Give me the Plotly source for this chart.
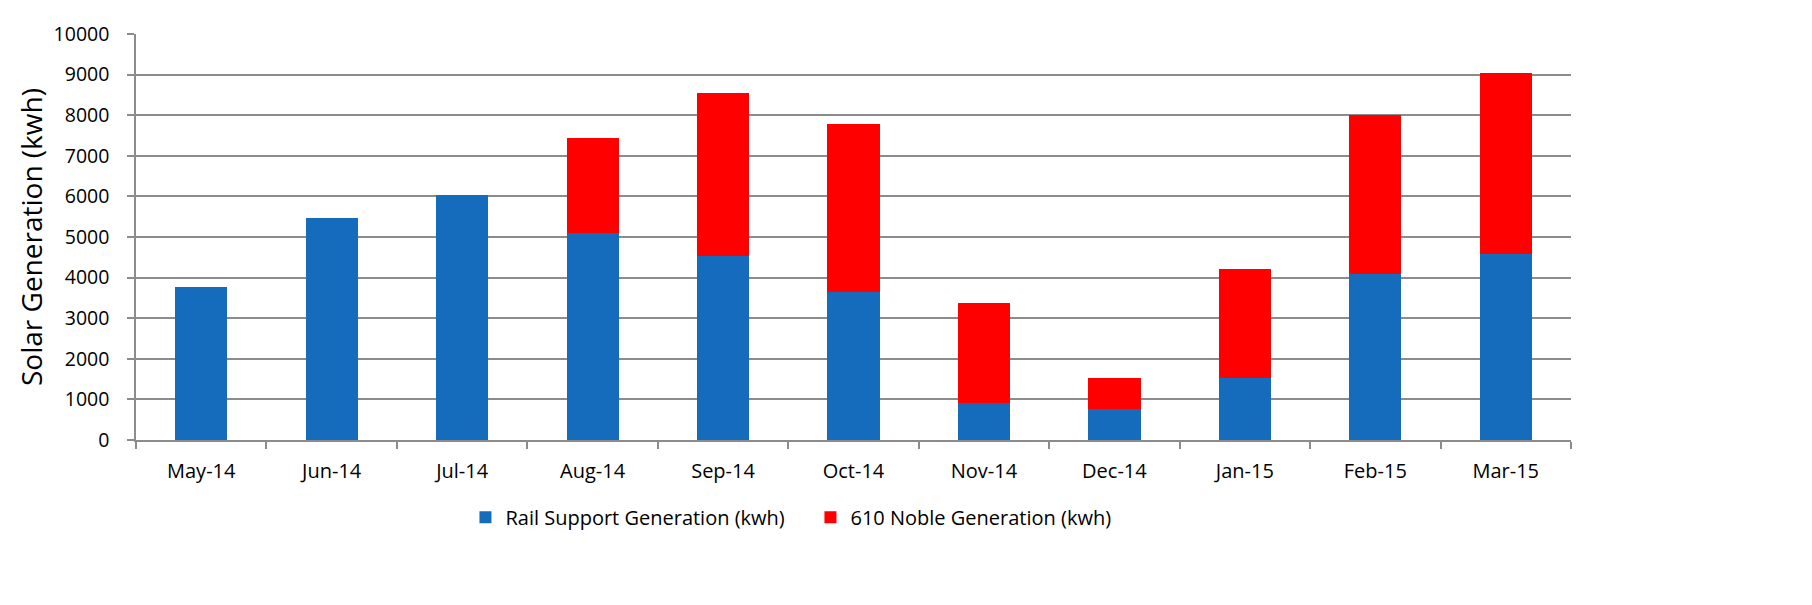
import plotly.graph_objects as go

months = ["May-14", "Jun-14", "Jul-14", "Aug-14", "Sep-14", "Oct-14",
          "Nov-14", "Dec-14", "Jan-15", "Feb-15", "Mar-15"]
rail_support = [3770, 5462, 6034, 5090, 4535, 3641, 917, 757, 1531, 4085, 4593]
noble_610 = [0, 0, 0, 2360, 4003, 4131, 2462, 760, 2683, 3915, 4435]

y_ticks = list(range(0, 10001, 1000))
y_title = "Solar Generation (kwh)"

L, R, T, B = 128, 249, 15, 173
W, H = 1812, 605
plot_w = W - L - R

fig = go.Figure()
fig.add_trace(go.Bar(x=months, y=rail_support, name="Rail Support Generation (kwh)",
                     marker=dict(color="#156CBD", line=dict(width=0))))
fig.add_trace(go.Bar(x=months, y=noble_610, name="610 Noble Generation (kwh)",
                     marker=dict(color="#FF0000", line=dict(width=0))))

fig.update_layout(
    barmode="stack",
    bargap=0.6,
    width=W, height=H,
    margin=dict(l=L, r=R, t=T, b=B),
    paper_bgcolor="white", plot_bgcolor="white",
    font=dict(family="Open Sans", size=20, color="#000000"),
    showlegend=True,
    legend=dict(orientation="h", x=0.47, xanchor="center", y=-0.19, yanchor="middle",
                font=dict(size=20), traceorder="normal", itemwidth=30,
                entrywidth=300, entrywidthmode="pixels"),
    xaxis=dict(type="category", showgrid=False, showline=True, linecolor="#8c8c8c",
               linewidth=1.5, ticks="outside", tickson="boundaries", ticklen=7,
               tickcolor="#8c8c8c", tickwidth=1.5, tickfont=dict(size=20),
               ticklabelstandoff=12),
    yaxis=dict(range=[0, 10000], tickvals=y_ticks, tickformat="d", showgrid=True,
               gridcolor="#8c8c8c", gridwidth=1.5, showline=True, linecolor="#8c8c8c",
               linewidth=1.5, ticks="outside", ticklen=7, tickcolor="#8c8c8c",
               tickwidth=1.5, tickfont=dict(size=19.5), zeroline=False,
               ticklabelstandoff=14),
    annotations=[dict(text=y_title, textangle=-90, xref="paper", yref="paper",
                      x=-105 / plot_w, y=0.5, xanchor="center", yanchor="middle",
                      showarrow=False, font=dict(size=28, color="#000000"))],
)

fig.write_html("out.html")
